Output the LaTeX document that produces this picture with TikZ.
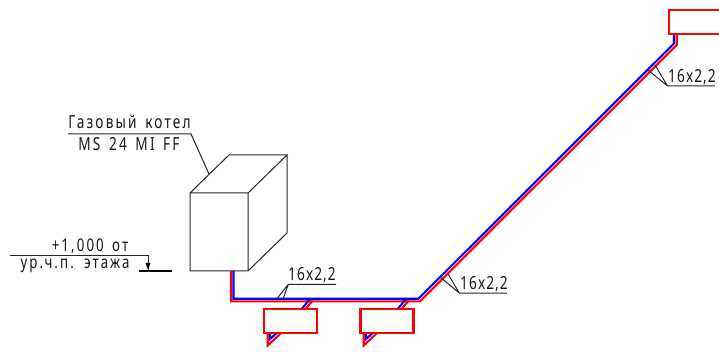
\documentclass[tikz,border=0pt]{standalone}
\usepackage{fontspec}
\setmainfont[LetterSpace=12,FakeStretch=0.76,WordSpace=1.5]{Noto Sans}
\newfontfamily\numfont[LetterSpace=6,FakeStretch=0.76]{Noto Sans}
\begin{document}
\begin{tikzpicture}[x=1pt,y=-1pt,
  ln/.style={draw=black!85,line width=1pt},
  redp/.style={draw=red,line width=2.1pt,line join=miter},
  bluep/.style={draw=blue,line width=2.1pt,line join=miter},
  rad/.style={draw=red,line width=2.1pt,fill=white},
  lbl/.style={inner sep=0pt,font=\fontsize{18}{18}\selectfont,text=black!90},
  lvl/.style={inner sep=0pt,font=\fontsize{17.5}{17.5}\selectfont,text=black!90},
  numlbl/.style={inner sep=0pt,font=\numfont\fontsize{18}{18}\selectfont,text=black!90}]
\useasboundingbox (0,0) rectangle (719,352);
% boiler
\coordinate (fa) at (190,193); \coordinate (fb) at (248,193);
\coordinate (fc) at (248,271); \coordinate (fd) at (190,271);
\coordinate (ba) at (229,155); \coordinate (bb) at (287,155); \coordinate (bc) at (287,233);
\draw[ln] (fa)--(fb)--(fc)--(fd)--cycle (fa)--(ba)--(bb)--(fb) (bb)--(bc)--(fc);
% leader
\coordinate (l1) at (68,134); \coordinate (l2) at (191,134); \coordinate (l3) at (209,174);
\draw[ln] (l1)--(l2)--(l3);
\node[lbl] (t1) at (129.5,122) {Газовый котел};
\node[lbl] (t2) at (129,144) {MS 24 MI FF};
% level
\coordinate (m1) at (10,256); \coordinate (m2) at (148,256); \coordinate (m3) at (148,270);
\coordinate (b1) at (139,271); \coordinate (b2) at (172,271);
\draw[ln] (m1)--(m2)--(m3);
\draw[draw=black,line width=1.7pt] (b1)--(b2);
\fill[black] (145.5,263)--(150.5,263)--(148,270)--cycle;
\node[lvl,anchor=base] (t3) at (90,252) {+1,000 от};
\node[lvl,anchor=base] (t4) at (75,269) {ур.ч.п. этажа};
% pipes
\draw[redp] (231,271)--(231,301.3)--(420,301.3)--(676.7,45)--(676.7,34);
\draw[bluep] (233.5,271)--(233.5,298.7)--(418.5,298.7)--(674,43.5)--(674,34);
% stubs
\foreach \dx in {0,96}{
  \draw[bluep] (310+\dx,299)--(301.7+\dx,309);
  \draw[redp] (312.3+\dx,301)--(305.5+\dx,309);
  \draw[bluep] (270+\dx,333)--(270+\dx,339)--(276.7+\dx,333);
  \draw[redp] (267.7+\dx,333)--(267.7+\dx,345.5)--(281+\dx,333);
}
% radiators
\node[rad,minimum width=53pt,minimum height=23.5pt,inner sep=0pt] (r1) at (290.7,321) {};
\node[rad,minimum width=53pt,minimum height=23.5pt,inner sep=0pt] (r2) at (387,321) {};
\draw[rad] (725,10)--(669.3,10)--(669.3,34)--(725,34);
% pipe labels
\draw[ln] (336,284.3)--(288.3,284.3)--(276.7,299) (288.3,284.3)--(282.7,300);
\node[numlbl,anchor=south west] (t5) at (288,283) {16x2,2};
\draw[ln] (507,293)--(459.3,293)--(440.7,277.7) (459.3,293)--(448,274);
\node[numlbl,anchor=south west] (t6) at (460,292) {16x2,2};
\draw[ln] (715,86)--(667.5,86)--(648,70) (667.5,86)--(655,65);
\node[numlbl,anchor=south west] (t7) at (668,85) {16x2,2};
\end{tikzpicture}
\end{document}
